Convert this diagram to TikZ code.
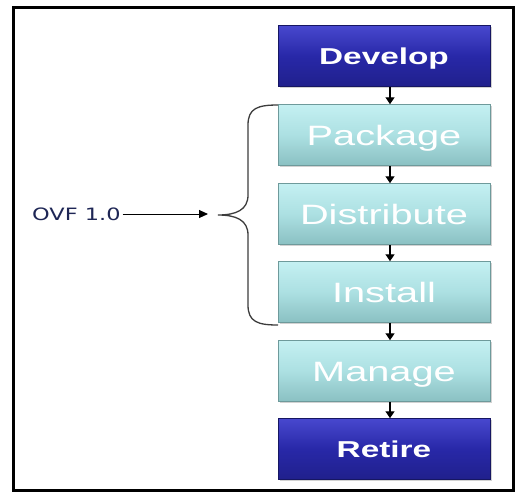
\documentclass[tikz,border=0pt]{standalone}
\usepackage{fontspec}
\setmainfont{Liberation Sans}
\newfontfamily\ovffont{DejaVu Sans}
\usetikzlibrary{arrows.meta,shadows}
\definecolor{darkTop}{RGB}{72,72,206}
\definecolor{darkMid}{RGB}{40,40,168}
\definecolor{darkBot}{RGB}{32,32,140}
\definecolor{lightTop}{RGB}{196,240,242}
\definecolor{lightMid}{RGB}{172,224,226}
\definecolor{lightBot}{RGB}{138,192,194}
\definecolor{ovfblue}{RGB}{30,38,85}
\definecolor{bracecol}{RGB}{60,60,60}
\newcommand\widetext[2]{\scalebox{#1}[1]{#2}}
\begin{document}
\begin{tikzpicture}[x=1pt,y=-1pt,
  boxbase/.style={minimum width=212pt, minimum height=61pt, inner sep=0pt,
    line width=0.5pt, text=white, text depth=0pt,
    drop shadow={shadow xshift=1.5pt, shadow yshift=-1.5pt, opacity=0.35}},
  darkbox/.style={boxbase, top color=darkTop, bottom color=darkBot, middle color=darkMid,
    draw=darkBot!70!black, text height=16.5pt, font=\fontsize{23}{23}\selectfont\bfseries},
  lightbox/.style={boxbase, top color=lightTop, bottom color=lightBot, middle color=lightMid,
    draw=lightBot!80!black, text height=20pt, font=\fontsize{28}{28}\selectfont},
  flow/.style={-{Triangle[width=9pt,length=7pt]}, line width=1.3pt, black},
]
\useasboundingbox (0,0) rectangle (516,493);
\fill[white] (0,0) rectangle (516,493);
\draw[line width=3pt] (13.5,7.5) rectangle (513,490.5);

\node[darkbox]  (develop)    at (384,56)  {\widetext{1.45}{Develop}};
\node[lightbox] (package)    at (384,135) {\widetext{1.42}{Package}};
\node[lightbox] (distribute) at (384,214) {\widetext{1.42}{Distribute}};
\node[lightbox] (install)    at (384,292) {\widetext{1.42}{Install}};
\node[lightbox] (manage)     at (384,371) {\widetext{1.42}{Manage}};
\node[darkbox]  (retire)     at (384,449) {\widetext{1.45}{Retire}};

\foreach \a/\b in {develop/package,package/distribute,distribute/install,install/manage,manage/retire}
  \draw[flow] ([xshift=6pt]\a.south) -- ([xshift=6pt]\b.north);

\draw[bracecol, line width=1.3pt]
  (278,105) .. controls (258,105) and (248,108) .. (248,125) -- (248,195)
  .. controls (248,210) and (236,215) .. (218,215)
  .. controls (236,215) and (248,220) .. (248,235) -- (248,305)
  .. controls (248,322) and (258,325) .. (278,325);
\coordinate (bracetip) at (208,214);

\node[anchor=west, inner sep=2pt, text=ovfblue, font=\ovffont\fontsize{17}{17}\selectfont] (ovf) at (30,214) {\widetext{1.32}{OVF 1.0}};
\draw[-{Triangle[width=8pt,length=9pt]}, line width=1pt] (ovf.east) -- (bracetip);
\end{tikzpicture}
\end{document}
